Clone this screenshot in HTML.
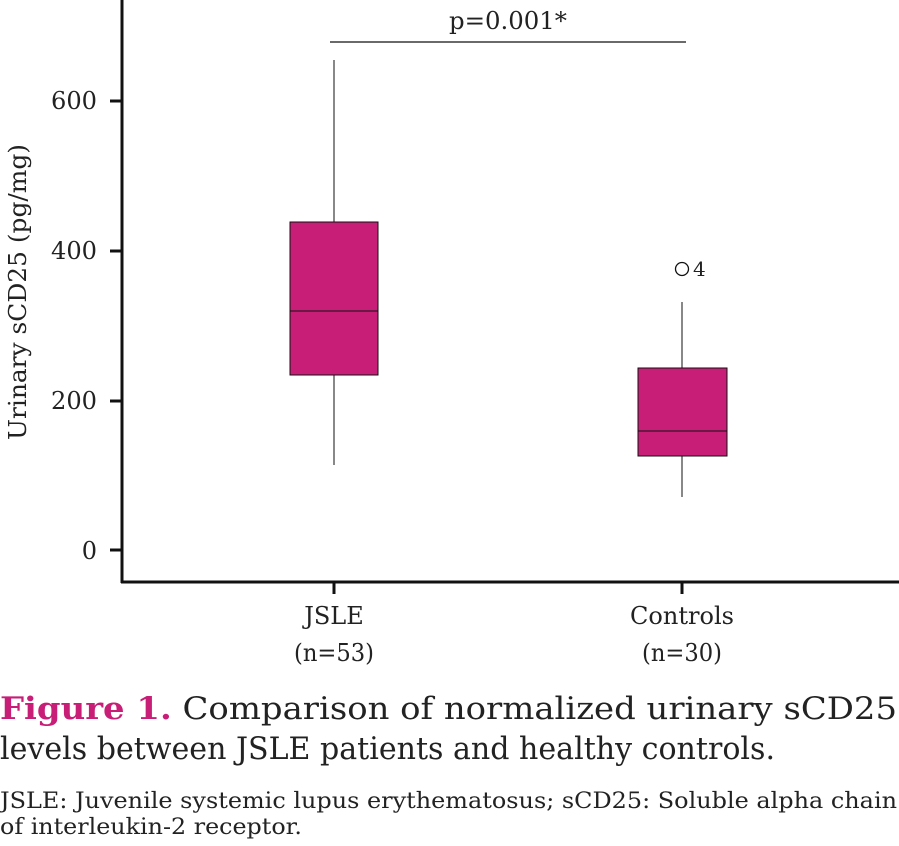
<!DOCTYPE html>
<html><head><meta charset="utf-8"><style>
body{margin:0;background:#fff;}
svg{display:block;font-family:"DejaVu Serif","Liberation Serif",serif;}
</style></head><body>
<svg width="899" height="846" viewBox="0 0 899 846" xmlns="http://www.w3.org/2000/svg">
<g stroke="#111" fill="none">
<line x1="122" y1="0" x2="122" y2="583" stroke-width="3"/>
<line x1="121" y1="582" x2="899" y2="582" stroke-width="3"/>
<g stroke-width="3">
<line x1="110" y1="101" x2="122" y2="101"/>
<line x1="110" y1="251" x2="122" y2="251"/>
<line x1="110" y1="401" x2="122" y2="401"/>
<line x1="110" y1="550" x2="122" y2="550"/>
<line x1="334" y1="582" x2="334" y2="594"/>
<line x1="682" y1="582" x2="682" y2="594"/>
</g>
<line x1="330" y1="42" x2="686" y2="42" stroke-width="1.2"/>
<g stroke-width="1">
<line x1="334" y1="60" x2="334" y2="222"/>
<line x1="334" y1="375" x2="334" y2="465"/>
<line x1="682" y1="302" x2="682" y2="368"/>
<line x1="682" y1="456" x2="682" y2="497"/>
<rect x="290" y="222" width="88" height="153" fill="#c81e78"/>
<line x1="290" y1="311" x2="378" y2="311"/>
<rect x="638" y="368" width="89" height="88" fill="#c81e78"/>
<line x1="638" y1="431" x2="727" y2="431"/>
<circle cx="682" cy="269" r="6.5" stroke-width="1.3"/>
</g>
</g>
<g fill="#222" font-size="24">
<text x="97" y="109" text-anchor="end" textLength="46" lengthAdjust="spacingAndGlyphs">600</text>
<text x="97" y="259" text-anchor="end" textLength="46" lengthAdjust="spacingAndGlyphs">400</text>
<text x="97" y="409" text-anchor="end" textLength="46" lengthAdjust="spacingAndGlyphs">200</text>
<text x="97" y="559" text-anchor="end">0</text>
<text x="334" y="624" text-anchor="middle">JSLE</text>
<text x="334" y="661" text-anchor="middle" textLength="80" lengthAdjust="spacingAndGlyphs">(n=53)</text>
<text x="682" y="624" text-anchor="middle" textLength="104" lengthAdjust="spacingAndGlyphs">Controls</text>
<text x="682" y="661" text-anchor="middle" textLength="80" lengthAdjust="spacingAndGlyphs">(n=30)</text>
<text x="508" y="29" text-anchor="middle" textLength="118" lengthAdjust="spacingAndGlyphs">p=0.001*</text>
<text x="693" y="276" font-size="20">4</text>
<text transform="translate(26,292) rotate(-90)" text-anchor="middle" textLength="296" lengthAdjust="spacingAndGlyphs">Urinary sCD25 (pg/mg)</text>
</g>
<g font-size="31" fill="#222">
<text x="0" y="719" textLength="897" lengthAdjust="spacingAndGlyphs"><tspan fill="#c81e78" font-weight="bold">Figure 1.</tspan> Comparison of normalized urinary sCD25</text>
<text x="0" y="759" textLength="775" lengthAdjust="spacingAndGlyphs">levels between JSLE patients and healthy controls.</text>
</g>
<g font-size="22" fill="#222">
<text x="0" y="808" textLength="897" lengthAdjust="spacingAndGlyphs">JSLE: Juvenile systemic lupus erythematosus; sCD25: Soluble alpha chain</text>
<text x="0" y="834" textLength="302" lengthAdjust="spacingAndGlyphs">of interleukin-2 receptor.</text>
</g>
</svg>
</body></html>
